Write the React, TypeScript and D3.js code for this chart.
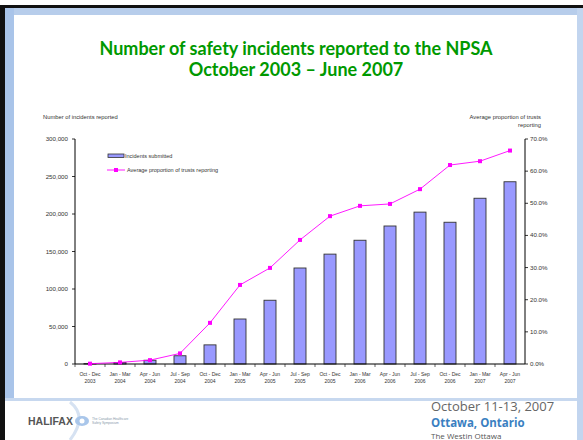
import { useEffect } from "react";
import * as d3 from "d3";

const quarters = [
  ["Oct - Dec", "2003"], ["Jan - Mar", "2004"], ["Apr - Jun", "2004"], ["Jul - Sep", "2004"],
  ["Oct - Dec", "2004"], ["Jan - Mar", "2005"], ["Apr - Jun", "2005"], ["Jul - Sep", "2005"],
  ["Oct - Dec", "2005"], ["Jan - Mar", "2006"], ["Apr - Jun", "2006"], ["Jul - Sep", "2006"],
  ["Oct - Dec", "2006"], ["Jan - Mar", "2007"], ["Apr - Jun", "2007"],
];
const incidents = [500, 2000, 5000, 11000, 25500, 60000, 85000, 128000, 146500, 165000, 184000, 202500, 189000, 221000, 243000];
const proportion = [0.1, 0.5, 1.2, 3.3, 12.8, 24.6, 29.9, 38.6, 46.0, 49.2, 49.8, 54.4, 61.9, 63.1, 66.4];
const leftTicks = [0, 50000, 100000, 150000, 200000, 250000, 300000];
const rightTicks = [0, 10, 20, 30, 40, 50, 60, 70];

const font = "'Liberation Sans', Arial, sans-serif";

export default function App() {
  useEffect(() => {
    document.documentElement.style.overflow = "hidden";
    document.body.style.margin = "0";
    document.body.style.overflow = "hidden";
  }, []);

  const left = 75, right = 525, top = 139, bottom = 364;
  const x = d3.scaleBand<number>().domain(d3.range(quarters.length)).range([left, right]);
  const yL = d3.scaleLinear().domain([0, 300000]).range([bottom, top]);
  const yR = d3.scaleLinear().domain([0, 70]).range([bottom, top]);
  const barW = 12;
  const cx = (i: number) => x(i)! + x.bandwidth() / 2;
  const line = d3.line<number>().x((_, i) => cx(i)).y((d) => yR(d));
  const fmt = d3.format(",");

  return (
    <svg width={583} height={440} style={{ position: "fixed", left: 0, top: 0, display: "block" }}>
      <rect width={583} height={440} fill="#fff" />
      {/* slide frame */}
      <rect x={0} y={5} width={583} height={3} fill="#111" />
      <rect x={0} y={5} width={5} height={435} fill="#111" />
      <rect x={5} y={8} width={578} height={7} fill="#B7CDEB" />
      <rect x={5} y={8} width={9} height={392} fill="#A9C4E9" />
      <rect x={577} y={8} width={6} height={432} fill="#C2D5EF" />
      <rect x={14} y={15} width={563} height={383} fill="#fff" />
      <rect x={5} y={398} width={572} height={3} fill="#C7D8EF" />

      <text x={296} y={55} textAnchor="middle" fill="#009900" fontFamily="Lato, sans-serif" fontWeight="bold" fontSize={18}>
        Number of safety incidents reported to the NPSA
      </text>
      <text x={296} y={76} textAnchor="middle" fill="#009900" fontFamily="Lato, sans-serif" fontWeight="bold" fontSize={18}>
        October 2003 – June 2007
      </text>

      <g fontFamily={font} fill="#333">
        <text x={43} y={119} fontSize={5.8}>Number of incidents reported</text>
        <text x={541} y={119} fontSize={5.8} textAnchor="end">Average proportion of trusts</text>
        <text x={541} y={127} fontSize={5.8} textAnchor="end">reporting</text>

        {leftTicks.map((t) => (
          <g key={t}>
            <line x1={left - 3} x2={left} y1={yL(t)} y2={yL(t)} stroke="#000" strokeWidth={0.8} />
            <text x={68} y={yL(t) + 2} fontSize={6.2} textAnchor="end">{fmt(t)}</text>
          </g>
        ))}
        {rightTicks.map((t) => (
          <g key={t}>
            <line x1={right} x2={right + 3} y1={yR(t)} y2={yR(t)} stroke="#000" strokeWidth={0.8} />
            <text x={530} y={yR(t) + 2} fontSize={6.2}>{t.toFixed(1)}%</text>
          </g>
        ))}
        {quarters.map((q, i) => (
          <g key={i}>
            <line x1={x(i)!} x2={x(i)!} y1={bottom} y2={bottom + 3} stroke="#000" strokeWidth={0.6} />
            <text x={cx(i)} y={376} fontSize={5} textAnchor="middle">{q[0]}</text>
            <text x={cx(i)} y={382.5} fontSize={5} textAnchor="middle">{q[1]}</text>
          </g>
        ))}
      </g>

      {incidents.map((v, i) => (
        <rect key={i} x={cx(i) - barW / 2} y={yL(v)} width={barW} height={bottom - yL(v)}
          fill="#9999FF" stroke="#333" strokeWidth={0.9} />
      ))}

      <line x1={left} x2={left} y1={top} y2={bottom} stroke="#000" strokeWidth={1} />
      <line x1={right} x2={right} y1={top} y2={bottom} stroke="#000" strokeWidth={1} />
      <line x1={left} x2={right} y1={bottom} y2={bottom} stroke="#000" strokeWidth={1.2} />

      <path d={line(proportion)!} fill="none" stroke="#FF00FF" strokeWidth={0.9} />
      {proportion.map((p, i) => (
        <rect key={i} x={cx(i) - 2} y={yR(p) - 2} width={4} height={4} fill="#FF00FF" />
      ))}

      {/* legend */}
      <rect x={108} y={154} width={16} height={3.5} fill="#9999FF" stroke="#333" strokeWidth={0.8} />
      <text x={125} y={157.5} fontSize={5.5} fontFamily={font} fill="#333">Incidents submitted</text>
      <line x1={107} x2={125} y1={170} y2={170} stroke="#FF00FF" strokeWidth={0.9} />
      <rect x={114} y={168} width={4} height={4} fill="#FF00FF" />
      <text x={127} y={172} fontSize={5.5} fontFamily={font} fill="#333">Average proportion of trusts reporting</text>

      {/* footer */}
      <g>
        <path d="M70,402 C80,410 84,422 70,440" fill="none" stroke="#D6E2F2" strokeWidth={3} />
        <text x={28} y={425} fontFamily={font} fontWeight="bold" fontSize={10.5} fill="#555">HALIFAX</text>
        <ellipse cx={82} cy={421} rx={7} ry={5} fill="#A9C6EA" />
        <circle cx={82} cy={421} r={2.5} fill="#fff" />
        <text x={92} y={420} fontFamily={font} fontSize={3.2} fill="#8899AA">The Canadian Healthcare</text>
        <text x={92} y={424} fontFamily={font} fontSize={3.2} fill="#8899AA">Safety Symposium</text>
        <text x={431} y={411} fontFamily="'Open Sans', sans-serif" fontSize={13} fill="#666">October 11-13, 2007</text>
        <text x={431} y={427} fontFamily="'Open Sans', sans-serif" fontWeight="bold" fontSize={11.5} fill="#3A7FC1">Ottawa, Ontario</text>
        <text x={431} y={439} fontFamily="'Open Sans', sans-serif" fontSize={8} fill="#555">The Westin Ottawa</text>
      </g>
    </svg>
  );
}
